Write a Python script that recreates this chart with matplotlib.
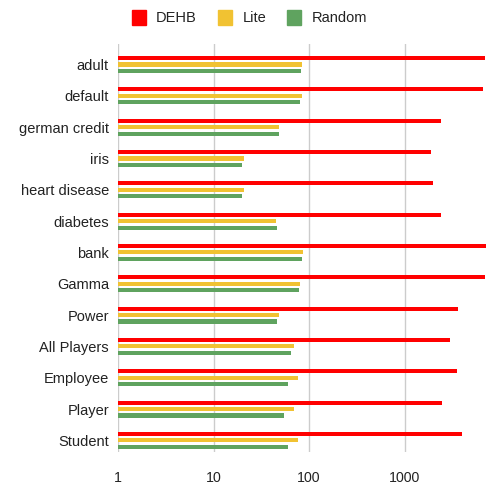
import numpy as np
import matplotlib
matplotlib.use("Agg")
import matplotlib.pyplot as plt
from matplotlib.patches import Rectangle

datasets = ["adult", "default", "german credit", "iris", "heart disease", "diabetes",
            "bank", "Gamma", "Power", "All Players", "Employee", "Player", "Student"]
dehb = [7000, 6600, 2400, 1880, 2000, 2400, 7150, 7000, 3630, 3020, 3520, 2470, 3970]
lite = [85, 85, 48.7, 21, 21, 45, 86, 80.5, 48.7, 70, 76, 70, 76]
rand = [82.5, 80.5, 48.7, 20, 20, 46, 83.5, 78, 46, 65.5, 60, 55, 60]
series = [("DEHB", dehb, "#ff0000"), ("Lite", lite, "#f1c232"), ("Random", rand, "#5fa35f")]
xticks = [1, 10, 100, 1000]

W, H, DPI = 494, 487, 100
plt.rcParams["font.family"] = ["Liberation Sans", "DejaVu Sans"]
fig = plt.figure(figsize=(W / DPI, H / DPI), dpi=DPI)

left, right, top, bottom = 118, 487, 44, 452
ax = fig.add_axes([left / W, 1 - bottom / H, (right - left) / W, (bottom - top) / H])

y = np.arange(len(datasets))
offsets = [-0.205, 0.0, 0.205]
bar_h = 0.13
for (name, vals, col), off in zip(series, offsets):
    ax.barh(y + off, vals, height=bar_h, color=col, zorder=3)

ax.set_xscale("log")
ax.set_xlim(1, 10 ** 3.863)
ax.set_ylim(12.37, -0.654)
ax.set_xticks(xticks)
ax.set_xticklabels([str(t) for t in xticks])
ax.minorticks_off()
ax.set_yticks(y)
ax.set_yticklabels(datasets)
ax.tick_params(axis="x", length=0, pad=13.5, labelsize=10.2, labelcolor="#222222")
ax.tick_params(axis="y", length=0, pad=6.5, labelsize=10.5, labelcolor="#222222")
ax.xaxis.grid(True, color="#cccccc", linewidth=1.0, zorder=0)
ax.set_axisbelow(True)
for s in ax.spines.values():
    s.set_visible(False)

# legend row at the top
legend_items = [(132, 156), (218, 243), (287, 312)]
for (sx, tx), (name, _, col) in zip(legend_items, series):
    fig.patches.append(Rectangle((sx / W, 1 - 25 / H), 14 / W, 15 / H,
                                 transform=fig.transFigure, color=col, figure=fig))
    fig.text(tx / W, 1 - 17.5 / H, name, ha="left", va="center",
             fontsize=10.5, color="#222222")

fig.savefig("out.png", dpi=DPI)
